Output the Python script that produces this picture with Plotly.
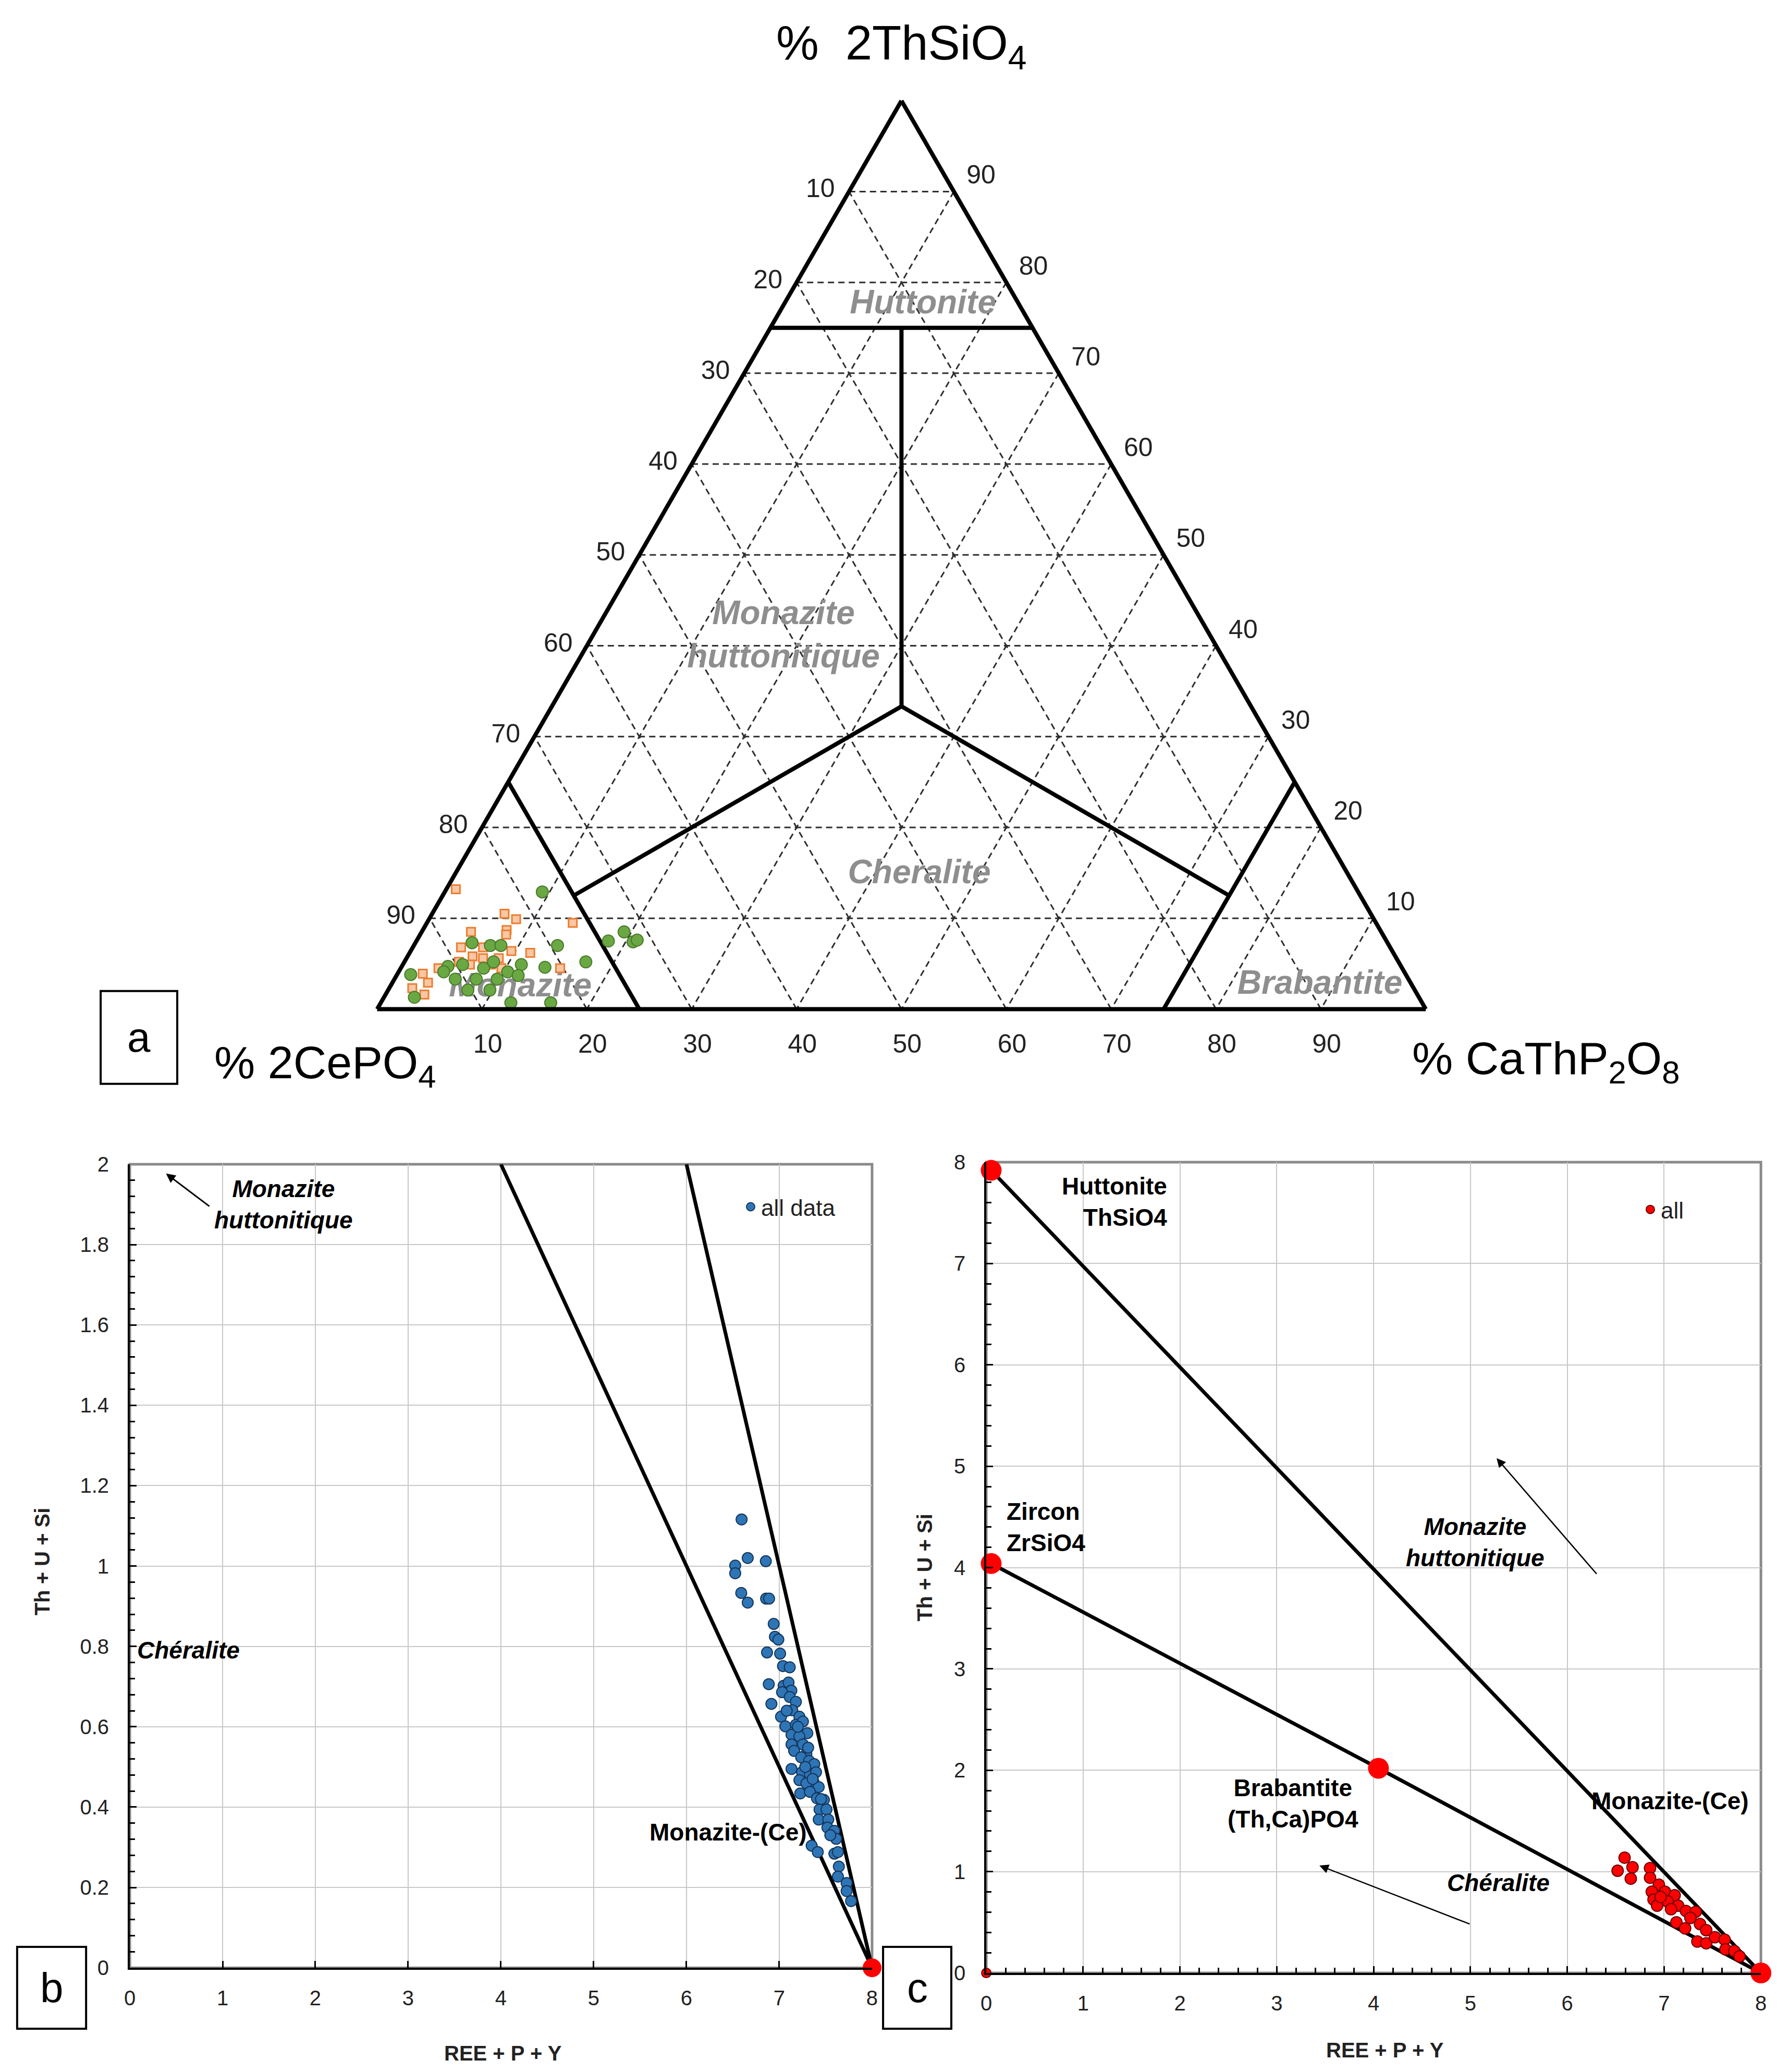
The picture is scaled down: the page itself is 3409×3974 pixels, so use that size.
import plotly.graph_objects as go

# ---------------- Panel a : ternary (percent) ----------------
tern_ticks = [10, 20, 30, 40, 50, 60, 70, 80, 90]
tern_ticktext = ["90", "80", "70", "60", "50", "40", "30", "20", "10"]

# green circles  (Th = 2ThSiO4, Ce = 2CePO4, Ca = CaThP2O8)
green_th = [12.9, 7.0, 7.5, 8.5, 7.4, 7.6, 5.2, 4.6, 4.9, 7.3, 3.8, 1.3, 0.7, 0.7,
            4.7, 4.9, 4.5, 5.2, 4.1, 3.7, 7.0, 7.0, 3.3, 3.3, 3.3, 2.1, 2.1, 4.1]
green_ce = [77.8, 79.3, 74.2, 72.2, 71.9, 71.4, 77.5, 81.7, 83.8, 87.3, 94.9, 95.8, 86.9, 83.1,
            90.9, 89.4, 87.6, 86.3, 85.5, 84.7, 85.7, 84.7, 88.9, 86.9, 90.9, 90.3, 88.2, 91.6]
green_ca = [9.3, 13.7, 18.3, 19.3, 20.7, 21.0, 17.3, 13.7, 11.3, 5.4, 1.3, 2.9, 12.4, 16.2,
            4.4, 5.7, 7.9, 8.5, 10.4, 11.6, 7.3, 8.3, 7.8, 9.8, 5.8, 7.6, 9.7, 4.3]

# orange squares
orange_th = [13.2, 10.5, 9.9, 8.7, 9.5, 8.5, 6.2, 4.5, 3.9, 2.3, 2.9, 6.8, 5.8, 8.2,
             5.6, 6.4, 6.8, 4.9, 4.9, 4.5, 1.6, 5.6, 5.2, 4.5]
orange_ce = [85.9, 82.6, 81.8, 83.3, 76.6, 86.8, 82.3, 80.3, 93.7, 95.5, 93.7, 88.6, 88.0, 83.6,
             85.6, 84.0, 86.5, 88.7, 86.7, 91.9, 94.7, 87.1, 89.6, 85.9]
orange_ca = [0.9, 6.9, 8.3, 8.0, 13.9, 4.7, 11.5, 15.2, 2.4, 2.2, 3.4, 4.6, 6.2, 8.2,
             8.8, 9.6, 6.7, 6.4, 8.4, 3.6, 3.7, 7.3, 5.2, 9.6]

# field boundaries: each segment (Th, Ce, Ca) start -> end
bound_th = [[75, 75], [75, 33.33], [33.33, 12.5], [33.33, 12.5], [25, 0], [25, 0]]
bound_ce = [[25, 0], [12.5, 33.33], [33.33, 75], [33.33, 12.5], [75, 75], [0, 25]]
bound_ca = [[0, 25], [12.5, 33.34], [33.34, 12.5], [33.34, 75], [0, 25], [75, 75]]

# field names and their positions (Th, Ce, Ca)
field_names = ["Huttonite", "Monazite<br>huttonitique", "Cheralite", "Monazite", "Brabantite"]
field_th = [77.5, 40.9, 14.8, 2.3, 2.6]
field_ce = [9.2, 40.8, 40.9, 85.2, 8.8]
field_ca = [13.3, 18.3, 44.3, 12.5, 88.6]

# ---------------- Panel b ----------------
b_x = [6.594, 6.66, 6.855, 6.525, 6.525, 6.59, 6.66, 6.858, 6.89, 6.94, 6.953, 6.99, 6.868,
       7.009, 7.04, 7.113, 6.887, 7.047, 7.10, 7.13, 7.03, 6.915, 7.113, 7.179, 7.019, 7.14,
       7.217, 7.066, 7.179, 7.255, 7.302, 7.132, 7.217, 7.132, 7.255, 7.16, 7.292, 7.311,
       7.236, 7.321, 7.377, 7.132, 7.245, 7.33, 7.396, 7.217, 7.368, 7.292, 7.425, 7.226,
       7.33, 7.406, 7.481, 7.434, 7.509, 7.425, 7.528, 7.519, 7.594, 7.613, 7.349, 7.415,
       7.594, 7.632, 7.642, 7.632, 7.726, 7.726, 7.774, 7.08, 7.20, 7.28, 7.36, 7.45, 7.55]
b_y = [1.116, 1.020, 1.012, 1.001, 0.982, 0.933, 0.909, 0.919, 0.919, 0.856, 0.824, 0.817,
       0.785, 0.782, 0.751, 0.748, 0.706, 0.702, 0.710, 0.690, 0.686, 0.657, 0.674, 0.662,
       0.625, 0.641, 0.625, 0.601, 0.605, 0.613, 0.584, 0.580, 0.576, 0.556, 0.556, 0.540,
       0.532, 0.548, 0.524, 0.515, 0.507, 0.495, 0.487, 0.483, 0.487, 0.467, 0.463, 0.459,
       0.450, 0.434, 0.438, 0.422, 0.418, 0.394, 0.394, 0.369, 0.369, 0.349, 0.341, 0.321,
       0.304, 0.288, 0.284, 0.288, 0.252, 0.227, 0.211, 0.191, 0.166, 0.64, 0.60, 0.50,
       0.47, 0.42, 0.33]
b_line1_x = [8, 4]
b_line1_y = [0, 2]
b_line2_x = [8, 6]
b_line2_y = [0, 2]
b_end_x = [8]
b_end_y = [0]

# ---------------- Panel c ----------------
c_x = [6.592, 6.674, 6.52, 6.656, 6.855, 6.855, 6.946, 6.873, 7.009, 7.109, 6.891, 7.036,
       6.928, 7.145, 7.226, 7.326, 7.127, 7.217, 7.371, 7.435, 7.344, 7.435, 7.525, 7.625,
       7.634, 7.725, 7.779, 6.964, 7.072, 7.272]
c_y = [1.138, 1.043, 1.009, 0.931, 1.034, 0.940, 0.871, 0.802, 0.802, 0.767, 0.724, 0.707,
       0.664, 0.664, 0.612, 0.603, 0.500, 0.440, 0.483, 0.422, 0.310, 0.293, 0.353, 0.328,
       0.233, 0.216, 0.164, 0.750, 0.629, 0.543]
c_end_x = [0.05, 0.05, 4.05, 8.0]      # Huttonite, Zircon, Brabantite, Monazite
c_end_y = [7.92, 4.04, 2.02, 0.0]
c_upper_x = [0.05, 8.0]
c_upper_y = [7.92, 0.0]
c_lower_x = [0.05, 4.05, 8.0]
c_lower_y = [4.04, 2.02, 0.0]
c_origin_x = [0]
c_origin_y = [0]

FONT = "Liberation Sans, Arial, sans-serif"
fig = go.Figure()

# ---- ternary traces ----
for th, ce, ca in zip(bound_th, bound_ce, bound_ca):
    fig.add_trace(go.Scatterternary(a=th, b=ce, c=ca, mode="lines",
                                    line=dict(color="black", width=8),
                                    showlegend=False, hoverinfo="skip"))
fig.add_trace(go.Scatterternary(a=field_th, b=field_ce, c=field_ca, mode="text",
                                text=["<b><i>%s</i></b>" % t for t in field_names],
                                textfont=dict(family=FONT, size=64, color="#8e8e8e"),
                                showlegend=False, hoverinfo="skip"))
fig.add_trace(go.Scatterternary(a=orange_th, b=orange_ce, c=orange_ca, mode="markers",
                                marker=dict(symbol="square", size=16, color="#F8C7A4",
                                            line=dict(color="#ED7D31", width=3)),
                                showlegend=False, cliponaxis=False))
fig.add_trace(go.Scatterternary(a=green_th, b=green_ce, c=green_ca, mode="markers",
                                marker=dict(symbol="circle", size=23, color="#6AA843",
                                            line=dict(color="#4A7A2C", width=2)),
                                showlegend=False, cliponaxis=False))

# ---- panel b traces ----
for lx, ly in [(b_line1_x, b_line1_y), (b_line2_x, b_line2_y)]:
    fig.add_trace(go.Scatter(x=lx, y=ly, mode="lines", line=dict(color="black", width=7),
                             showlegend=False, xaxis="x", yaxis="y", hoverinfo="skip"))
fig.add_trace(go.Scatter(x=b_x, y=b_y, mode="markers", name="all data",
                         marker=dict(size=21, color="#2E75B6", line=dict(color="#14355A", width=2)),
                         xaxis="x", yaxis="y", legend="legend"))
fig.add_trace(go.Scatter(x=b_end_x, y=b_end_y, mode="markers",
                         marker=dict(size=36, color="#FF0000"), cliponaxis=False,
                         showlegend=False, xaxis="x", yaxis="y"))

# ---- panel c traces ----
for lx, ly in [(c_upper_x, c_upper_y), (c_lower_x, c_lower_y)]:
    fig.add_trace(go.Scatter(x=lx, y=ly, mode="lines", line=dict(color="black", width=7),
                             showlegend=False, xaxis="x2", yaxis="y2", hoverinfo="skip"))
fig.add_trace(go.Scatter(x=c_x, y=c_y, mode="markers", name="all",
                         marker=dict(size=22, color="#FF0000", line=dict(color="#6B0000", width=2)),
                         xaxis="x2", yaxis="y2", legend="legend2"))
fig.add_trace(go.Scatter(x=c_end_x, y=c_end_y, mode="markers",
                         marker=dict(size=40, color="#FF0000"), cliponaxis=False,
                         showlegend=False, xaxis="x2", yaxis="y2"))
fig.add_trace(go.Scatter(x=c_origin_x, y=c_origin_y, mode="markers",
                         marker=dict(size=18, color="#FF0000", line=dict(color="#6B0000", width=2)),
                         cliponaxis=False, showlegend=False, xaxis="x2", yaxis="y2"))

# ---- layout ----
def tern_axis(tlen):
    return dict(tickmode="array", tickvals=tern_ticks, ticktext=tern_ticktext,
                showgrid=True, gridcolor="#2e2e2e", gridwidth=2.5, griddash="12px,8px",
                showline=True, linecolor="black", linewidth=8,
                ticks="outside", ticklen=tlen, tickcolor="rgba(0,0,0,0)",
                tickfont=dict(family=FONT, size=50, color="#222"), title=dict(text=""))

grid_c = "#c8c8c8"

def cart_axis(dom, rng, dt, minor_dt, anchor):
    d = dict(domain=dom, range=rng, dtick=dt, tick0=0, showgrid=True, gridcolor=grid_c,
             gridwidth=2, showline=True, linecolor="black", linewidth=4, zeroline=False,
             ticks="inside", ticklen=13, tickwidth=3, tickcolor="black",
             tickfont=dict(family=FONT, size=40, color="#222"), anchor=anchor,
             fixedrange=True, automargin=False)
    if minor_dt:
        d["minor"] = dict(ticks="inside", ticklen=10, tickwidth=3, tickcolor="black",
                          dtick=minor_dt, showgrid=False)
    return d

xb = cart_axis([0.0707, 0.4884], [0, 8], 1, None, "y")
yb = cart_axis([0.0523, 0.4401], [0, 2], 0.2, 0.04, "x")
xc = cart_axis([0.5527, 0.9886], [0, 8], 1, 0.2, "y2")
yc = cart_axis([0.0498, 0.4411], [0, 8], 1, 0.2, "x2")
xb["ticklabelstandoff"] = 20
xc["ticklabelstandoff"] = 20
yb["ticklabelstandoff"] = 28
yc["ticklabelstandoff"] = 28

bold = dict(family=FONT, size=46, color="black")
C = dict(xanchor="center", yanchor="middle", showarrow=False)
anns = []
# ternary titles
anns += [
    dict(x=0.5050, y=0.9796, xref="paper", yref="paper", **C,
         text="%  2ThSiO<sub>4</sub>", font=dict(family=FONT, size=92, color="black")),
    dict(x=0.1807, y=0.4879, xref="paper", yref="paper", **C,
         text="% 2CePO<sub>4</sub>", font=dict(family=FONT, size=88, color="black")),
    dict(x=0.8677, y=0.4897, xref="paper", yref="paper", **C,
         text="% CaThP<sub>2</sub>O<sub>8</sub>", font=dict(family=FONT, size=88, color="black")),
]
# panel letters
letter_boxes = [("a", 0.0543, 0.0974, 0.4789, 0.5237),
                ("b", 0.0073, 0.0461, 0.0229, 0.0624),
                ("c", 0.4946, 0.5330, 0.0229, 0.0624)]
for txt, x0, x1, y0, y1 in letter_boxes:
    anns.append(dict(x=(x0 + x1) / 2, y=(y0 + y1) / 2, xref="paper", yref="paper", **C,
                     text=txt, font=dict(family=FONT, size=80, color="black")))
# axis titles
anns += [
    dict(x=0.503, y=-0.106, xref="x domain", yref="y domain", **C,
         text="<b>REE + P + Y</b>", font=dict(family=FONT, size=40, color="#222")),
    dict(x=-0.118, y=0.506, xref="x domain", yref="y domain", **C, textangle=-90,
         text="<b>Th + U + Si</b>", font=dict(family=FONT, size=40, color="#222")),
    dict(x=0.515, y=-0.095, xref="x2 domain", yref="y2 domain", **C,
         text="<b>REE + P + Y</b>", font=dict(family=FONT, size=40, color="#222")),
    dict(x=-0.08, y=0.50, xref="x2 domain", yref="y2 domain", **C, textangle=-90,
         text="<b>Th + U + Si</b>", font=dict(family=FONT, size=40, color="#222")),
]
# panel b labels
anns += [
    dict(x=1.66, y=1.90, xref="x", yref="y", **C,
         text="<b><i>Monazite<br>huttonitique</i></b>", font=bold),
    dict(x=0.39, y=1.977, ax=0.866, ay=1.894, xref="x", yref="y", axref="x", ayref="y",
         text="", showarrow=True, arrowhead=2, arrowsize=1.2, arrowwidth=3, arrowcolor="black"),
    dict(x=0.07, y=0.79, xref="x", yref="y", showarrow=False, xanchor="left", yanchor="middle",
         text="<b><i>Chéralite</i></b>", font=bold),
    dict(x=6.45, y=0.337, xref="x", yref="y", **C,
         text="<b>Monazite-(Ce)</b>", font=bold),
]
# panel c labels
anns += [
    dict(x=1.88, y=7.61, xref="x2", yref="y2", showarrow=False, xanchor="right",
         yanchor="middle", align="right",
         text="<b>Huttonite<br>ThSiO4</b>", font=bold),
    dict(x=0.2, y=4.40, xref="x2", yref="y2", showarrow=False, xanchor="left",
         yanchor="middle", align="left",
         text="<b>Zircon<br>ZrSiO4</b>", font=bold),
    dict(x=3.17, y=1.675, xref="x2", yref="y2", **C,
         text="<b>Brabantite<br>(Th,Ca)PO4</b>", font=bold),
    dict(x=5.05, y=4.25, xref="x2", yref="y2", **C,
         text="<b><i>Monazite<br>huttonitique</i></b>", font=bold),
    dict(x=5.27, y=5.08, ax=6.31, ay=3.93, xref="x2", yref="y2", axref="x2", ayref="y2",
         text="", showarrow=True, arrowhead=2, arrowsize=1.4, arrowwidth=2.5, arrowcolor="black"),
    dict(x=5.29, y=0.89, xref="x2", yref="y2", **C,
         text="<b><i>Chéralite</i></b>", font=bold),
    dict(x=3.44, y=1.06, ax=5.0, ay=0.48, xref="x2", yref="y2", axref="x2", ayref="y2",
         text="", showarrow=True, arrowhead=2, arrowsize=1.4, arrowwidth=2.5, arrowcolor="black"),
    dict(x=7.06, y=1.70, xref="x2", yref="y2", **C,
         text="<b>Monazite-(Ce)</b>", font=bold),
]

shapes = []
for xr, yr in [("x domain", "y domain"), ("x2 domain", "y2 domain")]:
    shapes.append(dict(type="rect", xref=xr, yref=yr, x0=0, x1=1, y0=0, y1=1,
                       line=dict(color="#8a8a8a", width=5), layer="below"))
for _, x0, x1, y0, y1 in letter_boxes:
    shapes.append(dict(type="rect", xref="paper", yref="paper", x0=x0, x1=x1, y0=y0, y1=y1,
                       line=dict(color="black", width=4), fillcolor="white", layer="above"))

fig.update_layout(
    width=3409, height=3974, margin=dict(l=0, r=0, t=0, b=0, autoexpand=False),
    paper_bgcolor="white", plot_bgcolor="rgba(0,0,0,0)",
    font=dict(family=FONT, color="black"),
    ternary=dict(sum=100, bgcolor="white",
                 domain=dict(x=[0.2095, 0.8004], y=[0.5150, 0.9534]),
                 aaxis=tern_axis(18), baxis=tern_axis(22), caxis=tern_axis(30)),
    xaxis=xb, yaxis=yb, xaxis2=xc, yaxis2=yc,
    legend=dict(x=0.4142, y=0.4195, xanchor="left", yanchor="middle",
                bgcolor="rgba(0,0,0,0)", font=dict(family=FONT, size=44, color="#222")),
    legend2=dict(x=0.9205, y=0.4182, xanchor="left", yanchor="middle",
                 bgcolor="rgba(0,0,0,0)", font=dict(family=FONT, size=44, color="#222")),
    annotations=anns, shapes=shapes,
)

fig.write_html("out.html")
